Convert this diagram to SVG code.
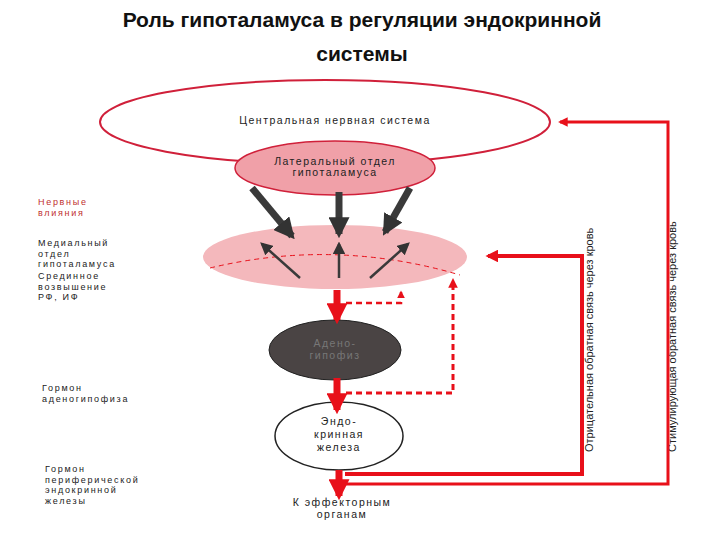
<svg xmlns="http://www.w3.org/2000/svg" width="720" height="540" viewBox="0 0 720 540">
<defs>
<style>
text{font-family:"Liberation Sans",Arial,sans-serif}
.t{font-size:21px;font-weight:bold;fill:#111}
.l{font-size:9px;fill:#222;letter-spacing:1.7px}
.n{font-size:10.5px;fill:#222;letter-spacing:1.5px;text-anchor:middle}
.v{font-size:11px;fill:#222}
.red{stroke:#e8101a;fill:none}
</style>
<marker id="ar" viewBox="0 0 10 10" refX="8" refY="5" markerWidth="3" markerHeight="3" orient="auto"><path d="M0,0L10,5L0,10z" fill="#e8101a"/></marker>
<marker id="as" viewBox="0 0 10 10" refX="8" refY="5" markerWidth="3.2" markerHeight="3.2" orient="auto"><path d="M0,0L10,5L0,10z" fill="#e8101a"/></marker>
<marker id="ad" viewBox="0 0 10 10" refX="8" refY="5" markerWidth="3" markerHeight="3" orient="auto"><path d="M0,0L10,5L0,10z" fill="#333"/></marker>
<marker id="ae" viewBox="0 0 10 10" refX="8" refY="5" markerWidth="5" markerHeight="5" orient="auto"><path d="M0,0L10,5L0,10z" fill="#333"/></marker>
</defs>
<rect width="720" height="540" fill="#fff"/>
<text class="t" x="362" y="27" text-anchor="middle">Роль гипоталамуса в регуляции эндокринной</text>
<text class="t" x="362" y="61" text-anchor="middle">системы</text>

<g id="cns"><ellipse cx="325" cy="122" rx="225" ry="42" fill="#fff" stroke="#d0203a" stroke-width="2"/>
<text class="n" x="335" y="124">Центральная нервная система</text></g>
<g id="lateral"><ellipse cx="335" cy="168" rx="100" ry="27" fill="#f0a0a8" stroke="#d0203a" stroke-width="1.5"/>
<text class="n" x="335" y="165">Латеральный отдел</text><text class="n" x="335" y="176">гипоталамуса</text></g>
<g id="medial"><ellipse cx="335" cy="257" rx="132" ry="32" fill="#f4b8bc"/>
<path d="M210,268 Q335,238 460,275" stroke="#e8101a" stroke-dasharray="5,4" fill="none"/></g>
<g id="adeno"><ellipse cx="335" cy="350" rx="66" ry="30" fill="#4a4444" stroke="#222"/>
<text class="n" x="335" y="347" style="fill:#777">Адено-</text><text class="n" x="335" y="359" style="fill:#777">гипофиз</text></g>
<g id="gland"><ellipse cx="339" cy="436" rx="64" ry="34" fill="#fff" stroke="#222" stroke-width="1.5"/>
<text class="n" x="339" y="425">Эндо-</text><text class="n" x="339" y="438">кринная</text><text class="n" x="339" y="451">железа</text></g>

<g id="labels">
<text class="l" x="38" y="205" style="fill:#c0302f">Нервные</text><text class="l" x="38" y="215.5" style="fill:#c0302f">влияния</text>
<text class="l" x="38" y="246">Медиальный</text><text class="l" x="38" y="256.5">отдел</text><text class="l" x="38" y="267">гипоталамуса</text>
<text class="l" x="38" y="279">Срединное</text><text class="l" x="38" y="289.5">возвышение</text><text class="l" x="38" y="300">РФ, ИФ</text>
<text class="l" x="42" y="391">Гормон</text><text class="l" x="42" y="402">аденогипофиза</text>
<text class="l" x="45" y="472">Гормон</text><text class="l" x="45" y="482.5">периферической</text><text class="l" x="45" y="493">эндокринной</text><text class="l" x="45" y="503.5">железы</text>
<text class="n" x="342" y="506">К эффекторным</text><text class="n" x="342" y="518">органам</text>
<text class="v" transform="translate(593,452) rotate(-90)">Отрицательная обратная связь через кровь</text>
<text class="v" transform="translate(676,452) rotate(-90)">Стимулирующая обратная связь через кровь</text>
</g>

<g id="connectors">
<g stroke="#3a3a3a" stroke-width="7" fill="none" marker-end="url(#ad)">
<path d="M252,188 L292,236"/><path d="M339,192 L339,234"/><path d="M410,188 L385,232"/>
</g>
<g stroke="#3a3a3a" stroke-width="2.5" fill="none" marker-end="url(#ae)">
<path d="M300,278 L262,244"/><path d="M339,278 L339,244"/><path d="M370,278 L408,244"/>
</g>
<g stroke="#e8101a" stroke-width="7" fill="none" marker-end="url(#ar)">
<path d="M337,290 L337,320"/><path d="M337,378 L337,410"/><path d="M339,470 L339,496"/>
</g>
<path class="red" stroke-width="2.5" stroke-dasharray="6,4" d="M346,303 H401 V292" marker-end="url(#as)"/>
<path class="red" stroke-width="3" stroke-dasharray="6,4" d="M346,393 H453 V280" marker-end="url(#as)"/>
<path class="red" stroke-width="4" d="M345,474 H582 V256 H488" marker-end="url(#as)"/>
<path class="red" stroke-width="3" d="M345,484 H668 V122 H560" marker-end="url(#as)"/>
</g>
</svg>
